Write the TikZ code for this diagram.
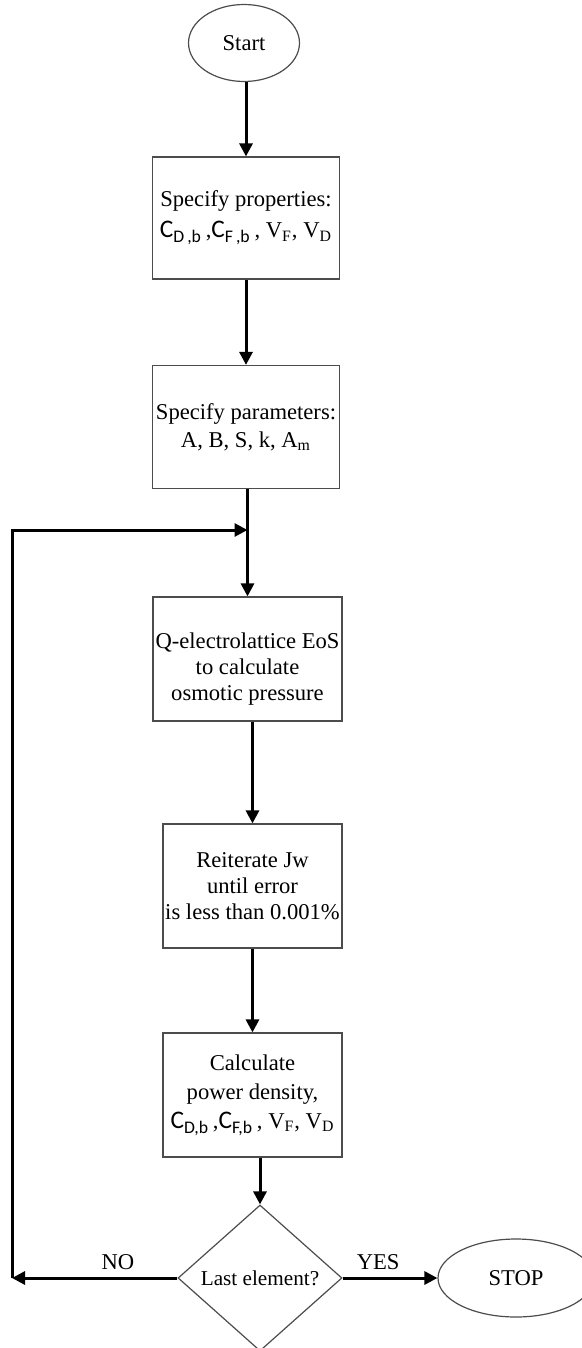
\documentclass[tikz,border=0pt]{standalone}
\usepackage{fontspec}
\setmainfont{Liberation Serif}
\newfontfamily\calfont[Scale=1.12]{Carlito}
\usetikzlibrary{shapes.geometric,arrows.meta,positioning}
\newcommand{\csub}[2]{{\calfont #1\textsubscript{#2}}}

\begin{document}
\begin{tikzpicture}[x=0.5pt, y=-0.5pt,
    font=\fontsize{11.3}{13}\selectfont,
    stepbox/.style={draw=black!70, line width=0.6pt, align=center, inner sep=0pt},
    terminal/.style={ellipse, draw=black!70, line width=0.6pt, inner sep=0pt},
    decision/.style={diamond, draw=black!70, line width=0.6pt, inner sep=0pt, aspect=1.12,
        minimum width=82pt, minimum height=73pt, font=\fontsize{10.6}{12}\selectfont},
    flow/.style={line width=1.5pt, -{Triangle[length=6.5pt, width=6.5pt]}}]
    \useasboundingbox (0,0) rectangle (582,1348);
    \node[terminal, minimum width=55.5pt, minimum height=38.5pt] (start) at (244,43) {Start};
    \node[stepbox, minimum width=93.5pt, minimum height=61pt] (props) at (246,218)
        {Specify properties:\\[2.5pt] \csub{C}{D\,,b}\,,\csub{C}{F\,,b}\,, V\textsubscript{F},\ V\textsubscript{D}};
    \node[stepbox, minimum width=93.5pt, minimum height=61.5pt] (params) at (246,427)
        {Specify parameters:\\[1pt] A, B, S, k, A\textsubscript{m}};
    \node[stepbox, minimum width=94.5pt, minimum height=62pt] (eos) at (247.5,659)
        {\rule{0pt}{18pt}Q-electrolattice EoS\\ to calculate\\ osmotic pressure};
    \node[stepbox, minimum width=89.5pt, minimum height=62pt] (iter) at (252.5,886)
        {Reiterate Jw\\ until error\\ is less than 0.001\%};
    \node[stepbox, minimum width=89.5pt, minimum height=62pt] (power) at (252.5,1095)
        {Calculate\\[1.5pt] power density,\\[1.5pt] \csub{C}{D,b}\,,\csub{C}{F,b}\,, V\textsubscript{F}, V\textsubscript{D}};
    \node[decision] (last) at (260,1278) {Last element?};
    \node[terminal, minimum width=78pt, minimum height=39pt] (stop) at (516,1278) {STOP};
    \coordinate (back) at (12,1278);
    \coordinate (merge) at (eos.north |- 0,530);

    % main line
    \draw[flow] (start.south -| props) -- (props.north);
    \draw[flow] (props.south) -- (params.north);
    \draw[flow] (params.south -| eos) -- (eos.north);
    \draw[flow] (eos.south -| iter) -- (iter.north);
    \draw[flow] (iter.south) -- (power.north);
    \draw[flow] (power.south -| last) -- (last.north);
    % decision
    \draw[flow] (last.west) -- node[above, pos=0.36] {NO} (back);
    \draw[flow] (back) |- (merge);
    \draw[flow] (last.east) -- node[above, pos=0.375] {YES} (stop.west);
\end{tikzpicture}
\end{document}
